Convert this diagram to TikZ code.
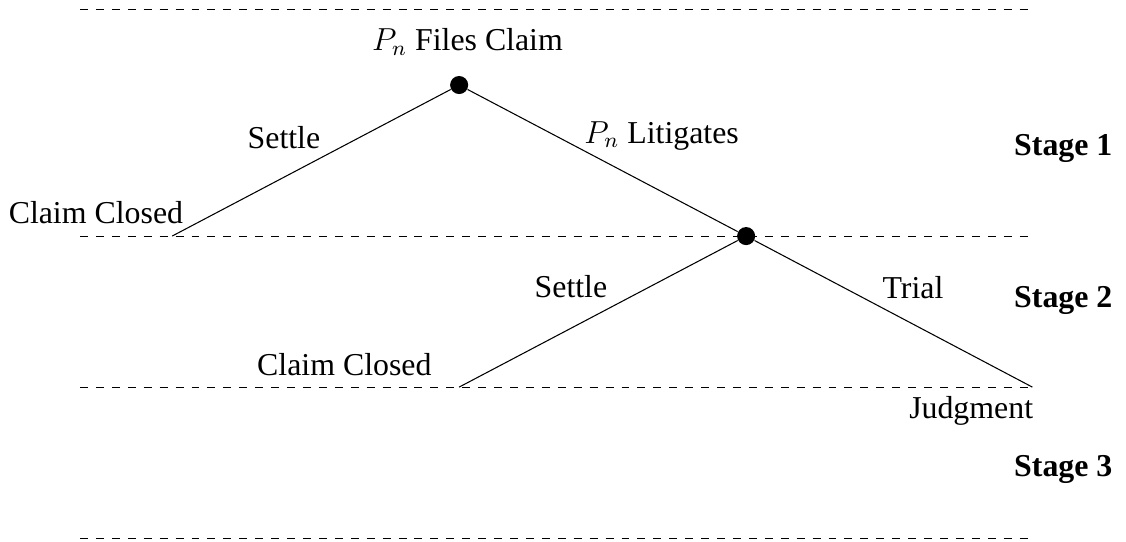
\documentclass[tikz,border=0pt]{standalone}
\usepackage{amsmath,amssymb}
\usepackage{fontspec}
\setmainfont{Liberation Serif}
\usepackage{tikz}

\begin{document}
\begin{tikzpicture}[
	decision/.style={circle, fill, inner sep=0pt, minimum size=6.8pt},
	txt/.style={anchor=base, font=\fontsize{12}{14}\selectfont},
	stagelbl/.style={txt, font=\fontsize{12}{14}\selectfont\bfseries}]
	\useasboundingbox (-6.08,1.126) rectangle (8.83,-6.05); % Fixes the margins
	
	% Draw the stage boundaries
	\foreach \y in {1,-2,-4,-6} % Dashed line at each boundary
	\draw[dashed] (-5.02,\y) -- (7.55,\y);
	
	% Decision points and end points
	\node[decision] (filed) at (0,0) {};
	\node[decision] (litig) at (3.8,-2) {};
	\coordinate (closedA) at (-3.8,-2);
	\coordinate (closedB) at (0,-4);
	\coordinate (judg) at (7.59,-4);
	
	% Branches of the tree
	\draw (filed) -- (closedA);
	\draw (filed) -- (litig);
	\draw (litig) -- (closedB);
	\draw (litig) -- (judg);
	
	% Labels of the branches
	\node[txt] (filedlbl) at (0.11,0.46) {$P_n$ Files Claim};
	\node[txt] (settleA) at (-2.32,-0.835) {Settle};
	\node[txt] (litiglbl) at (2.68,-0.77) {$P_n$ Litigates};
	\node[txt] (closedAlbl) at (-4.81,-1.83) {Claim Closed};
	\node[txt] (settleB) at (1.48,-2.82) {Settle};
	\node[txt] (trial) at (6.01,-2.83) {Trial};
	\node[txt] (closedBlbl) at (-1.52,-3.84) {Claim Closed};
	\node[txt] (judglbl) at (6.78,-4.41) {Judgment};
	
	% Stage names on the right
	\node[stagelbl] (stageA) at (8,-0.93) {Stage 1};
	\node[stagelbl] (stageB) at (8,-2.94) {Stage 2};
	\node[stagelbl] (stageC) at (8,-5.19) {Stage 3};
\end{tikzpicture}
\end{document}
